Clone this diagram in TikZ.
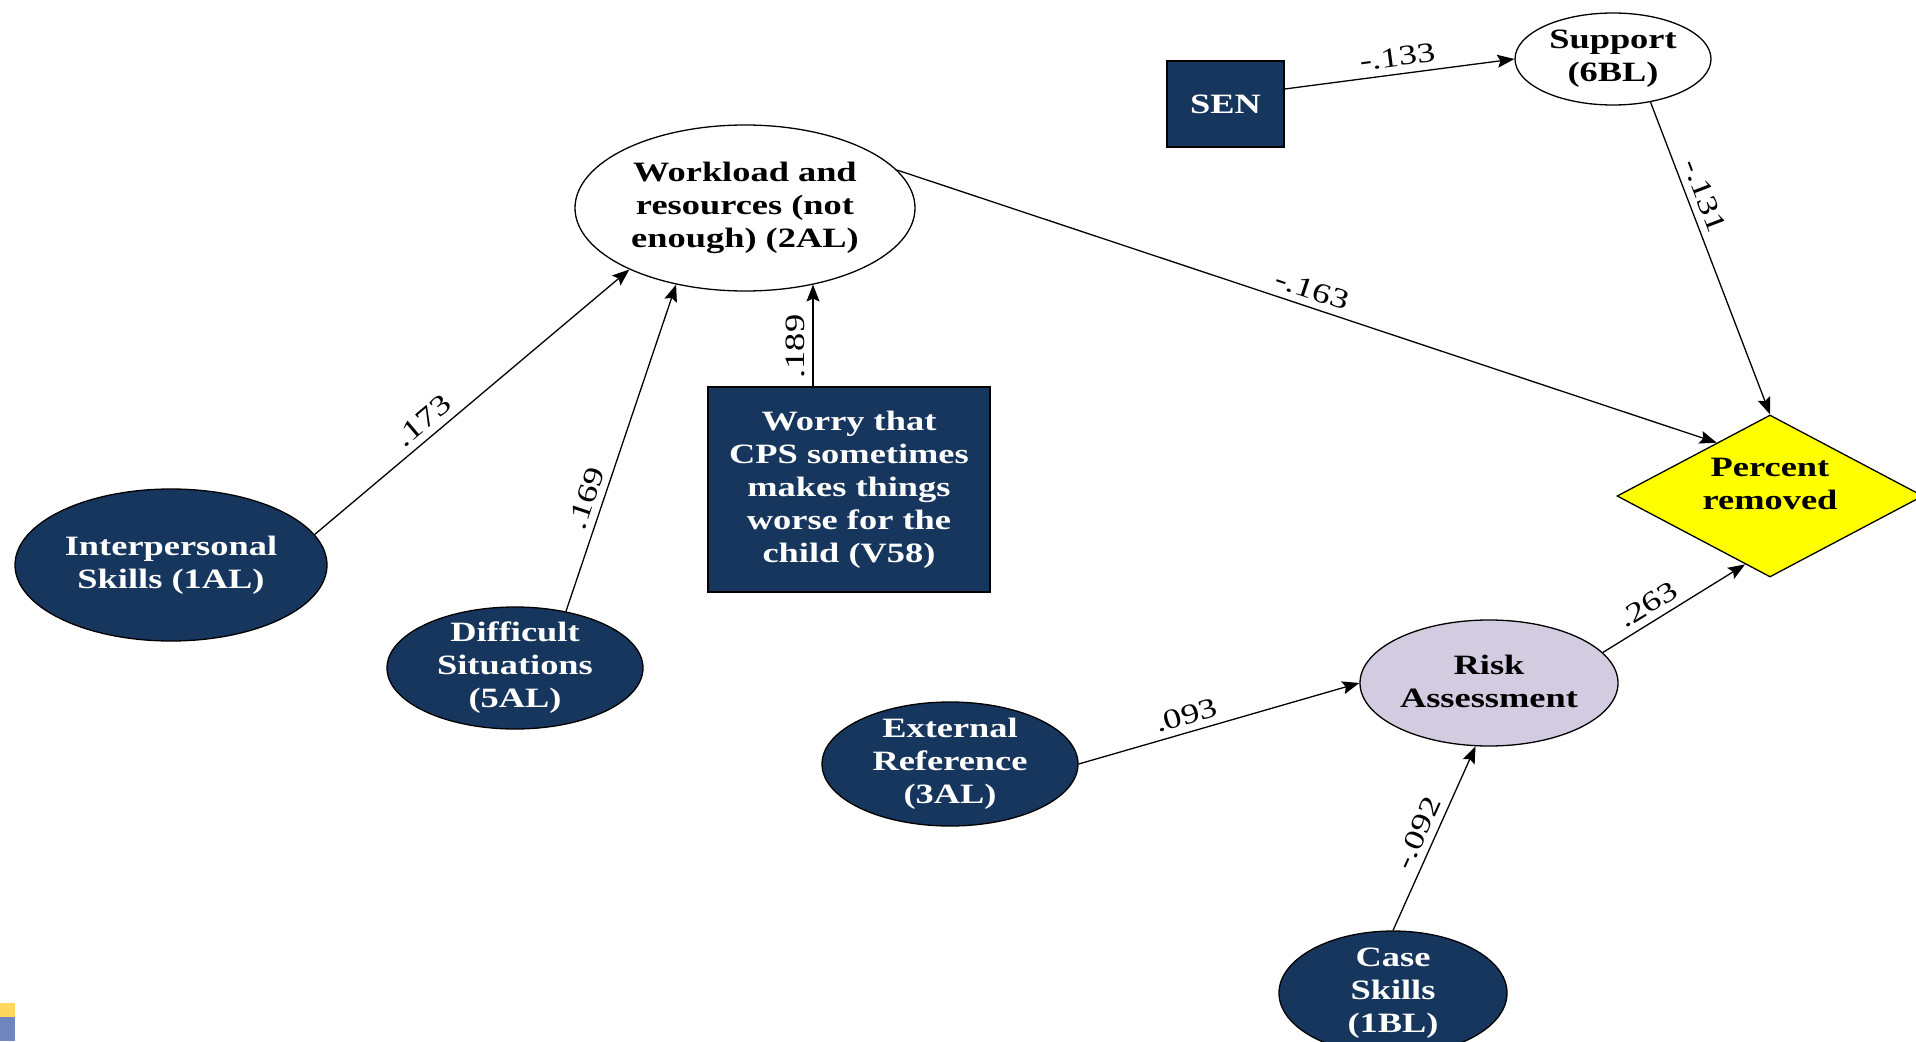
\documentclass[tikz,border=0pt]{standalone}
\usepackage{fontspec}
\setmainfont{Liberation Serif}[FakeStretch=1.3]
\usetikzlibrary{shapes.geometric,arrows.meta}
\definecolor{navy}{RGB}{23,54,93}
\definecolor{lav}{RGB}{211,203,224}
\definecolor{yel}{RGB}{255,255,0}
\definecolor{cornery}{RGB}{255,215,94}
\definecolor{cornerb}{RGB}{111,134,191}
\begin{document}
\begin{tikzpicture}[x=1pt,y=-1pt,
  every node/.style={font=\fontsize{28}{33}\selectfont\bfseries, align=center},
  ell/.style={ellipse, draw=black, line width=1.3pt, inner sep=0pt},
  dark/.style={fill=navy},
  txtw/.style={text=white, inner sep=0pt},
  txtb/.style={text=black, inner sep=0pt},
  arr/.style={-{Stealth[length=17pt,width=13pt,inset=3pt]}, line width=1.3pt},
  lab/.style={font=\fontsize{28}{33}\selectfont, sloped, above, inner sep=7pt}
]
\useasboundingbox (0,0) rectangle (1916,1041);
\fill[white] (0,0) rectangle (1916,1041);

% nodes
\node[ell, fill=white, minimum width=340pt, minimum height=166pt,
  label={[txtb]center:{Workload and\\resources (not\\enough) (2AL)}}] (work) at (745,208) {};
\node[draw=black, line width=1.3pt, fill=navy, text=white, minimum width=117pt, minimum height=86pt, inner sep=0pt] (sen) at (1225.5,104) {SEN};
\node[ell, fill=white, minimum width=196pt, minimum height=92pt,
  label={[txtb]center:{Support\\(6BL)}}] (sup) at (1613,59) {};
\node[ell, dark, minimum width=312pt, minimum height=152pt,
  label={[txtw]center:{Interpersonal\\Skills (1AL)}}] (inter) at (171,565) {};
\node[ell, dark, minimum width=256pt, minimum height=122pt,
  label={[txtw]center:{Difficult\\Situations\\(5AL)}}] (diff) at (515,668) {};
\node[draw=black, line width=1.3pt, fill=navy, text=white, minimum width=282pt, minimum height=205pt, inner sep=0pt] (worry) at (849,489.5)
  {Worry that\\CPS sometimes\\makes things\\worse for the\\child (V58)};
\node[diamond, draw=black, line width=1.3pt, fill=yel, minimum width=306pt, minimum height=162pt, inner sep=0pt,
  label={[txtb, yshift=12pt]center:{Percent\\removed}}] (pct) at (1770,496) {};
\node[ell, fill=lav, minimum width=258pt, minimum height=126pt,
  label={[txtb, yshift=2pt]center:{Risk\\Assessment}}] (risk) at (1489,683) {};
\node[ell, dark, minimum width=256pt, minimum height=124pt,
  label={[txtw]center:{External\\Reference\\(3AL)}}] (ext) at (950,764) {};
\node[ell, dark, minimum width=228pt, minimum height=124pt,
  label={[txtw]center:{Case\\Skills\\(1BL)}}] (case) at (1393,993) {};

% connectors
\draw[arr] ([yshift=15pt]sen.east) -- node[lab,pos=0.5]{-.133} (sup.west);
\draw[arr] (sup.-49) -- node[lab,pos=0.32]{-.131} (pct.north);
\draw[arr] (work.14) -- node[lab,pos=0.5]{-.163} (pct.135);
\draw[arr] (inter.12) -- node[lab,pos=0.38]{.173} (work.208);
\draw[arr] (diff.48) -- node[lab,pos=0.33]{.169} (work.228);
\coordinate (wt) at ([xshift=-36pt]worry.north);
\draw[arr] (wt) -- node[lab,pos=0.39]{.189} (wt |- work.-48);
\draw[arr] (ext.east) -- node[lab,pos=0.4]{.093} (risk.west);
\draw[arr] (case.north) -- node[lab,pos=0.49]{-.092} (risk.258);
\draw[arr] (risk.15) -- node[lab,pos=0.38]{.263} (pct.250);

% corner marks
\fill[cornery] (0,1003) rectangle (15,1017);
\fill[cornerb] (0,1017) rectangle (15,1041);
\end{tikzpicture}
\end{document}
